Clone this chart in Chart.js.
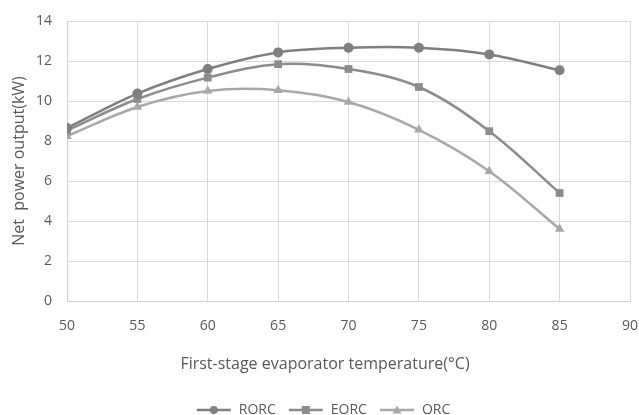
<!DOCTYPE html>
<html>
<head>
<meta charset="utf-8">
<script src="https://cdn.jsdelivr.net/npm/chart.js@4/dist/chart.umd.min.js"></script>
<style>
html,body{margin:0;padding:0;background:#fff;}
#wrap{width:639px;height:415px;position:relative;overflow:hidden;}
</style>
</head>
<body>
<div id="wrap"><canvas id="c" width="639" height="415"></canvas></div>
<script>
const temperatures = [50, 55, 60, 65, 70, 75, 80, 85];
const rorc = [8.65, 10.37, 11.6, 12.43, 12.66, 12.66, 12.33, 11.54];
const eorc = [8.53, 10.1, 11.17, 11.84, 11.6, 10.7, 8.49, 5.4];
const orc  = [8.24, 9.7, 10.5, 10.54, 9.95, 8.56, 6.49, 3.6];
const seriesNames = ['RORC', 'EORC', 'ORC'];
const seriesColors = ['#7f7f7f', '#8c8c8c', '#a8a8a8'];
const seriesMarkers = ['circle', 'rect', 'triangle'];
const xTitle = 'First-stage evaporator temperature(°C)';
const yTitle = 'Net  power output(kW)';

function pts(vals){ return temperatures.map((t,i)=>({x:t,y:vals[i]})); }

function legendIcon(color, marker){
  const cv = document.createElement('canvas');
  cv.width = 36; cv.height = 12;
  const g = cv.getContext('2d');
  g.strokeStyle = color; g.lineWidth = 2.5;
  g.beginPath(); g.moveTo(1,6); g.lineTo(35,6); g.stroke();
  g.fillStyle = color;
  g.beginPath();
  if (marker==='circle'){ g.arc(18,6,4,0,Math.PI*2); }
  else if (marker==='rect'){ g.rect(14,2,8,8); }
  else { g.moveTo(18,1.5); g.lineTo(22.5,9.5); g.lineTo(13.5,9.5); g.closePath(); }
  g.fill();
  return cv;
}

const dataVals = [rorc, eorc, orc];
const datasets = seriesNames.map((n,i)=>({
  label: n,
  data: pts(dataVals[i]),
  borderColor: seriesColors[i],
  backgroundColor: seriesColors[i],
  borderWidth: 2.5,
  pointStyle: seriesMarkers[i],
  pointRadius: seriesMarkers[i]==='circle' ? 5 : 5.5,
  pointBorderWidth: 0,
  tension: 0.35,
  fill: false
}));

const FAM = "'Open Sans', 'Noto Sans', sans-serif";

const xTitlePlugin = {
  id: 'xTitlePlugin',
  afterDraw(chart){
    const ctx = chart.ctx;
    ctx.save();
    ctx.font = "16px " + FAM;
    ctx.fillStyle = '#595959';
    ctx.textAlign = 'center';
    ctx.textBaseline = 'middle';
    ctx.fillText(xTitle, 325, chart.chartArea.bottom + 63);
    ctx.restore();
  }
};

new Chart(document.getElementById('c'), {
  type: 'line',
  data: { datasets },
  plugins: [xTitlePlugin],
  options: {
    responsive: false,
    animation: false,
    layout: { padding: { top: 21, right: 0, bottom: -12, left: 7 } },
    scales: {
      x: {
        type: 'linear', min: 50, max: 90,
        ticks: { stepSize: 5, color: '#595959', font: {family: FAM, size: 14}, padding: 17 },
        grid: { color: '#d9d9d9', drawTicks: false, lineWidth: 1 },
        border: { color: '#d0d0d0' },
        afterFit: (s)=>{ s.height = 90; s.paddingRight = 9; s.paddingLeft = 0; }
      },
      y: {
        min: 0, max: 14,
        ticks: { stepSize: 2, color: '#595959', font: {family: FAM, size: 14}, padding: 15 },
        grid: { color: '#d9d9d9', drawTicks: false, lineWidth: 1 },
        border: { color: '#d0d0d0' },
        title: { display: true, text: yTitle, color: '#595959',
                 font: {family: FAM, size: 16}, padding: {top: 3, bottom: 4} },
        afterFit: (s)=>{ s.width = 60; s.paddingTop = 0; s.paddingBottom = 0; }
      }
    },
    plugins: {
      legend: {
        position: 'bottom',
        labels: {
          usePointStyle: true,
          pointStyleWidth: 36,
          color: '#595959',
          font: {family: FAM, size: 14},
          padding: 12,
          generateLabels: (chart)=> chart.data.datasets.map((d,i)=>({
            text: d.label,
            fillStyle: d.borderColor,
            strokeStyle: d.borderColor,
            fontColor: '#595959',
            lineWidth: 0,
            pointStyle: legendIcon(seriesColors[i], seriesMarkers[i]),
            datasetIndex: i,
            hidden: false
          }))
        }
      },
      tooltip: { enabled: false }
    }
  }
});
</script>
</body>
</html>
